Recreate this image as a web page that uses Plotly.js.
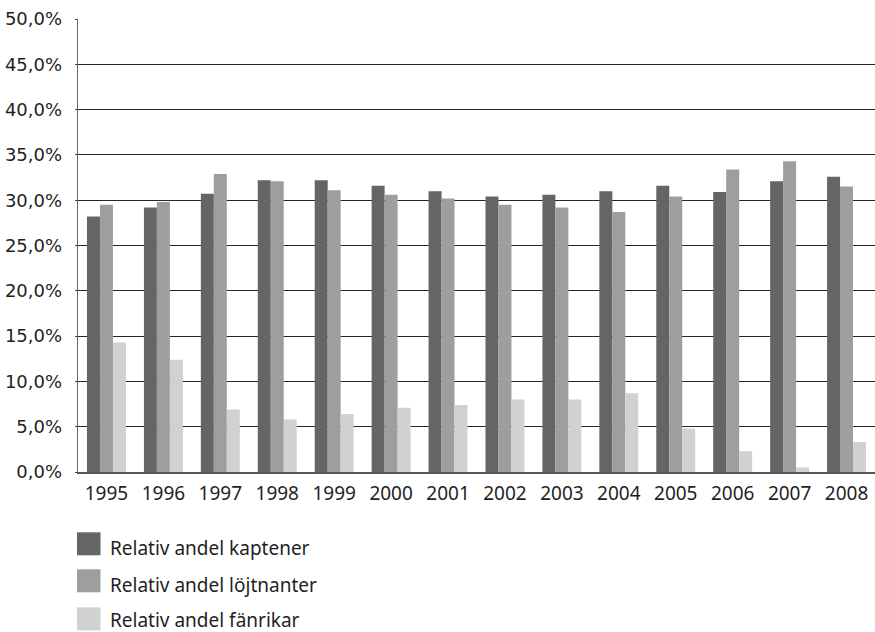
<!DOCTYPE html>
<html>
<head>
<meta charset="utf-8">
<script src="https://cdn.plot.ly/plotly-3.0.1.min.js"></script>
<style>
  html, body { margin: 0; padding: 0; background: #fff; }
  #chart { width: 875px; height: 632px; }
</style>
</head>
<body>
<div id="chart"></div>
<script>
// ---- Data ----
const years = ["1995","1996","1997","1998","1999","2000","2001","2002","2003","2004","2005","2006","2007","2008"];
const seriesNames = ["Relativ andel kaptener", "Relativ andel löjtnanter", "Relativ andel fänrikar"];
const kaptener   = [28.2, 29.2, 30.7, 32.2, 32.2, 31.6, 31.0, 30.4, 30.6, 31.0, 31.6, 30.9, 32.1, 32.6];
const lojtnanter = [29.5, 29.8, 32.9, 32.1, 31.1, 30.6, 30.2, 29.5, 29.2, 28.7, 30.4, 33.4, 34.3, 31.5];
const fanrikar   = [14.3, 12.4, 6.9, 5.8, 6.4, 7.1, 7.4, 8.0, 8.0, 8.7, 4.8, 2.3, 0.5, 3.3];
const yTickVals  = [0, 0.05, 0.10, 0.15, 0.20, 0.25, 0.30, 0.35, 0.40, 0.45, 0.50];

// ---- Styles ----
const colors = ["#646567", "#9d9ea0", "#d0d1d3"];
const FONT = "Noto Sans, Open Sans, sans-serif";
const YFONT = "DejaVu Sans, Noto Sans, sans-serif";
const values = [kaptener, lojtnanter, fanrikar];

const traces = values.map((vals, i) => ({
  type: "bar",
  name: seriesNames[i],
  x: years,
  y: vals.map(v => v / 100),
  marker: { color: colors[i], line: { width: 0 } },
  showlegend: false,
  hoverinfo: "x+y+name"
}));

// Custom legend (larger swatches than Plotly's built-in legend)
const PLOT_L = 78, PLOT_R = 875, PLOT_T = 18.7, PLOT_B = 471.7;
const px2x = px => (px - PLOT_L) / (PLOT_R - PLOT_L);
const px2y = py => (PLOT_B - py) / (PLOT_B - PLOT_T);
const swatchCY = [543.5, 580.5, 618.5];
const textCY   = [548, 585, 620];
const shapes = [];
const annotations = [];
seriesNames.forEach((name, i) => {
  shapes.push({
    type: "rect", xref: "paper", yref: "paper",
    x0: px2x(77), x1: px2x(100.5),
    y0: px2y(swatchCY[i] + 11.5), y1: px2y(swatchCY[i] - 11.5),
    fillcolor: colors[i], line: { width: 0 }
  });
  annotations.push({
    xref: "paper", yref: "paper",
    x: px2x(109), y: px2y(textCY[i]),
    xanchor: "left", yanchor: "middle",
    text: name, showarrow: false, borderpad: 0,
    font: { family: FONT, size: 19, color: "#1f1f1f" }
  });
});

const layout = {
  width: 875, height: 632,
  margin: { l: 78, r: 0, t: 19, b: 160, pad: 0 },
  paper_bgcolor: "#fff", plot_bgcolor: "#fff",
  separators: ", ",
  barmode: "group",
  bargap: 0.316,
  bargroupgap: 0,
  showlegend: false,
  font: { family: FONT, size: 19, color: "#1f1f1f" },
  xaxis: {
    type: "category",
    showgrid: false,
    showline: true, linecolor: "#555", linewidth: 1.5,
    ticks: "", zeroline: false,
    tickfont: { family: FONT, size: 19, color: "#1f1f1f" },
    ticklabelstandoff: 4,
    fixedrange: true
  },
  yaxis: {
    range: [0, 0.5],
    tickvals: yTickVals,
    tickformat: ".1%",
    showgrid: true, gridcolor: "#262626", gridwidth: 1,
    showline: true, linecolor: "#666", linewidth: 1.3,
    ticks: "outside", ticklen: 2, tickcolor: "#444", tickwidth: 1,
    zeroline: false,
    tickfont: { family: YFONT, size: 18, color: "#1f1f1f" },
    ticklabelstandoff: 9,
    fixedrange: true
  },
  shapes: shapes,
  annotations: annotations
};

Plotly.newPlot("chart", traces, layout, { displayModeBar: false, staticPlot: true });
</script>
</body>
</html>
